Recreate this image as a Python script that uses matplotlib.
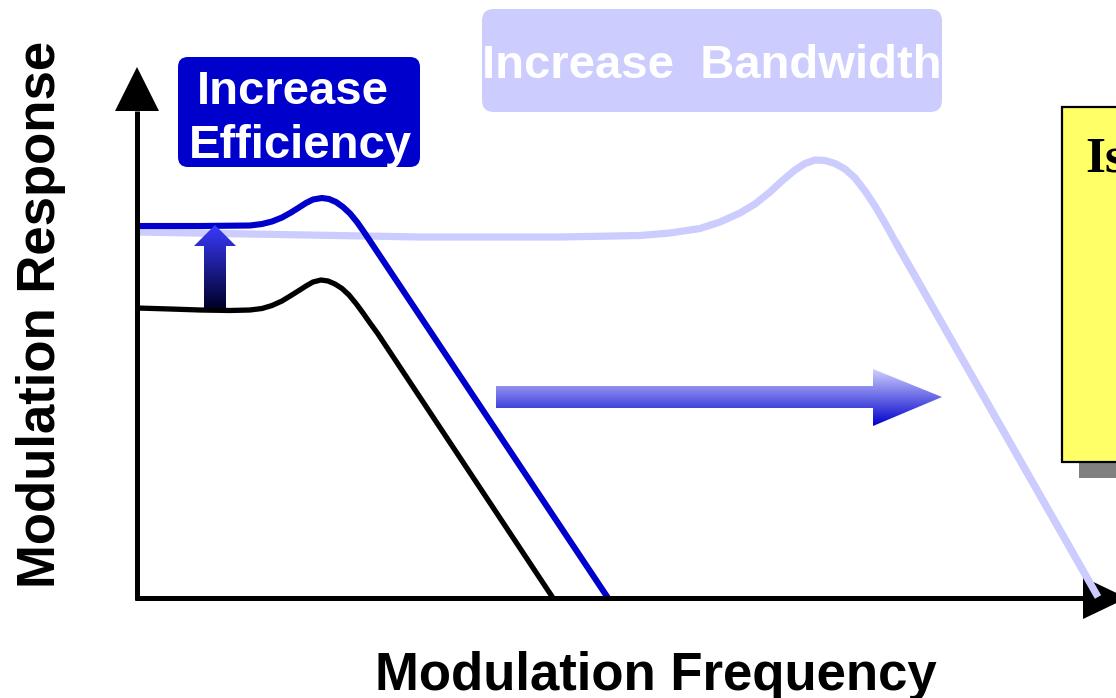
import numpy as np
import matplotlib
matplotlib.use("Agg")
import matplotlib.pyplot as plt
from matplotlib.patches import Polygon, FancyBboxPatch, Rectangle
from matplotlib.colors import LinearSegmentedColormap

# ---- data (frequency / response in schematic units) ----
black_f = [0.00, 0.33, 0.63, 0.93, 1.13, 1.25, 1.35, 1.45, 1.54, 1.62, 1.69, 1.76, 1.84,
           1.91, 1.98, 2.05, 2.12, 2.19, 2.26, 2.33, 2.41, 4.16]
black_r = [2.90, 2.89, 2.88, 2.875, 2.88, 2.895, 2.925, 2.97, 3.025, 3.075, 3.12, 3.16, 3.18,
           3.17, 3.14, 3.095, 3.03, 2.945, 2.85, 2.75, 2.64, 0.00]

blue_f = [0.00, 0.63, 1.13, 1.25, 1.35, 1.45, 1.54, 1.62, 1.69, 1.76, 1.85, 1.92, 1.99,
          2.06, 2.13, 2.20, 2.27, 2.34, 2.41, 4.71]
blue_r = [3.72, 3.72, 3.725, 3.74, 3.765, 3.805, 3.855, 3.905, 3.95, 3.985, 4.00, 3.99, 3.96,
          3.91, 3.845, 3.76, 3.66, 3.555, 3.45, 0.00]

lav_f = [0.00, 1.13, 2.83, 4.23, 5.03, 5.33, 5.63, 5.83, 6.03, 6.18, 6.33, 6.46, 6.58, 6.68,
         6.78, 6.88, 6.98, 7.08, 7.18, 7.28, 7.38, 7.48, 7.58, 9.61]
lav_r = [3.66, 3.64, 3.61, 3.61, 3.625, 3.65, 3.695, 3.76, 3.85, 3.94, 4.06, 4.18, 4.28, 4.345,
         4.38, 4.375, 4.345, 4.29, 4.20, 4.07, 3.92, 3.75, 3.57, 0.01]

xlabel = "Modulation Frequency"
ylabel = "Modulation Response"
eff_lines = ["Increase", "Efficiency"]
bw_text = "Increase  Bandwidth"
box_text = "Is"

SANS = ["Liberation Sans", "DejaVu Sans"]
SERIF = ["Liberation Serif", "DejaVu Serif"]

fig = plt.figure(figsize=(11.16, 6.98), dpi=100)
ax = fig.add_axes([0, 0, 1, 1])
ax.set_axis_off()

LAV = "#CCCCFF"
BLUE = "#0000CC"

# curves
ax.plot(lav_f, lav_r, color=LAV, lw=5.2, solid_capstyle="butt", solid_joinstyle="round", zorder=3)
ax.plot(black_f, black_r, color="black", lw=3.8, solid_capstyle="butt", solid_joinstyle="round", zorder=3)
ax.plot(blue_f, blue_r, color=BLUE, lw=4.4, solid_capstyle="butt", solid_joinstyle="round", zorder=4)

# axes with arrowheads
ax.plot([0, 0], [-0.02, 4.87], color="black", lw=3.6, solid_capstyle="butt", zorder=5)
ax.plot([-0.025, 9.46], [0, 0], color="black", lw=3.6, solid_capstyle="butt", zorder=5)
ax.add_patch(Polygon([(-0.22, 4.87), (0.22, 4.87), (0.0, 5.31)], closed=True,
                     facecolor="black", edgecolor="none", zorder=5))
ax.add_patch(Polygon([(9.46, 0.21), (9.46, -0.21), (9.90, 0.0)], closed=True,
                     facecolor="black", edgecolor="none", zorder=5))
# lavender line drawn over axis arrow end
ax.plot(lav_f[-2:], lav_r[-2:], color=LAV, lw=5.2, solid_capstyle="butt", zorder=6)


def gradient_poly(verts, y0, y1, c_bottom, c_top, z):
    poly = Polygon(verts, closed=True, facecolor="none", edgecolor="none", zorder=z)
    ax.add_patch(poly)
    xs = [v[0] for v in verts]
    cmap = LinearSegmentedColormap.from_list("g", [c_bottom, c_top])
    grad = np.linspace(0, 1, 256).reshape(-1, 1)
    im = ax.imshow(grad, cmap=cmap, origin="lower", aspect="auto",
                   extent=[min(xs), max(xs), y0, y1], zorder=z, interpolation="bilinear")
    im.set_clip_path(poly)


# vertical gradient arrow (efficiency)
gradient_poly([(0.67, 2.90), (0.89, 2.90), (0.89, 3.52), (0.99, 3.52), (0.78, 3.73),
               (0.57, 3.52), (0.67, 3.52)], 2.90, 3.73, "#000028", "#3A3AFF", 7)

# horizontal gradient arrow (bandwidth)
gradient_poly([(3.59, 1.90), (7.36, 1.90), (7.36, 1.72), (8.05, 2.01), (7.36, 2.29),
               (7.36, 2.12), (3.59, 2.12)], 1.72, 2.29, "#0000CC", "#D0D0FF", 7)

# Increase Efficiency box
ax.add_patch(FancyBboxPatch((0.50, 4.40), 2.24, 0.92, boxstyle="round,pad=0.09,rounding_size=0.1",
                            facecolor=BLUE, edgecolor="none", zorder=8))
ax.text(1.56, 4.94, eff_lines[0], color="white", fontsize=34, fontweight="bold",
        family=SANS, ha="center", va="baseline", zorder=9)
ax.text(1.63, 4.40, eff_lines[1], color="white", fontsize=34, fontweight="bold",
        family=SANS, ha="center", va="baseline", zorder=9)

# Increase Bandwidth box
bw_box = FancyBboxPatch((3.55, 4.96), 4.40, 0.83, boxstyle="round,pad=0.1,rounding_size=0.12",
                        facecolor=LAV, edgecolor="none", zorder=8)
ax.add_patch(bw_box)
t = ax.text(5.75, 5.20, bw_text, color="white", fontsize=34, fontweight="bold",
            family=SANS, ha="center", va="baseline", zorder=9)
t.set_clip_path(bw_box)

# yellow box with shadow (partly off-figure)
ax.add_patch(Rectangle((9.42, 1.20), 1.0, 3.55, facecolor="#808080", edgecolor="none", zorder=8))
ax.add_patch(Rectangle((9.25, 1.36), 1.0, 3.55, facecolor="#FFFF66", edgecolor="black",
                       lw=1.6, zorder=9))
ax.text(9.48, 4.26, box_text, color="black", fontsize=37, fontweight="bold",
        family=SERIF, ha="left", va="baseline", zorder=10)

# axis labels
ax.text(5.19, -0.92, xlabel, fontsize=38, fontweight="bold", family=SANS,
        ha="center", va="baseline", zorder=10)
ax.text(-0.82, 2.835, ylabel, fontsize=38, fontweight="bold", family=SANS,
        ha="center", va="baseline", rotation=90, rotation_mode="anchor", zorder=10)

ax.set_xlim(-1.37, 9.79)
ax.set_ylim(-1.00, 5.98)

fig.savefig("out.png", dpi=100)
